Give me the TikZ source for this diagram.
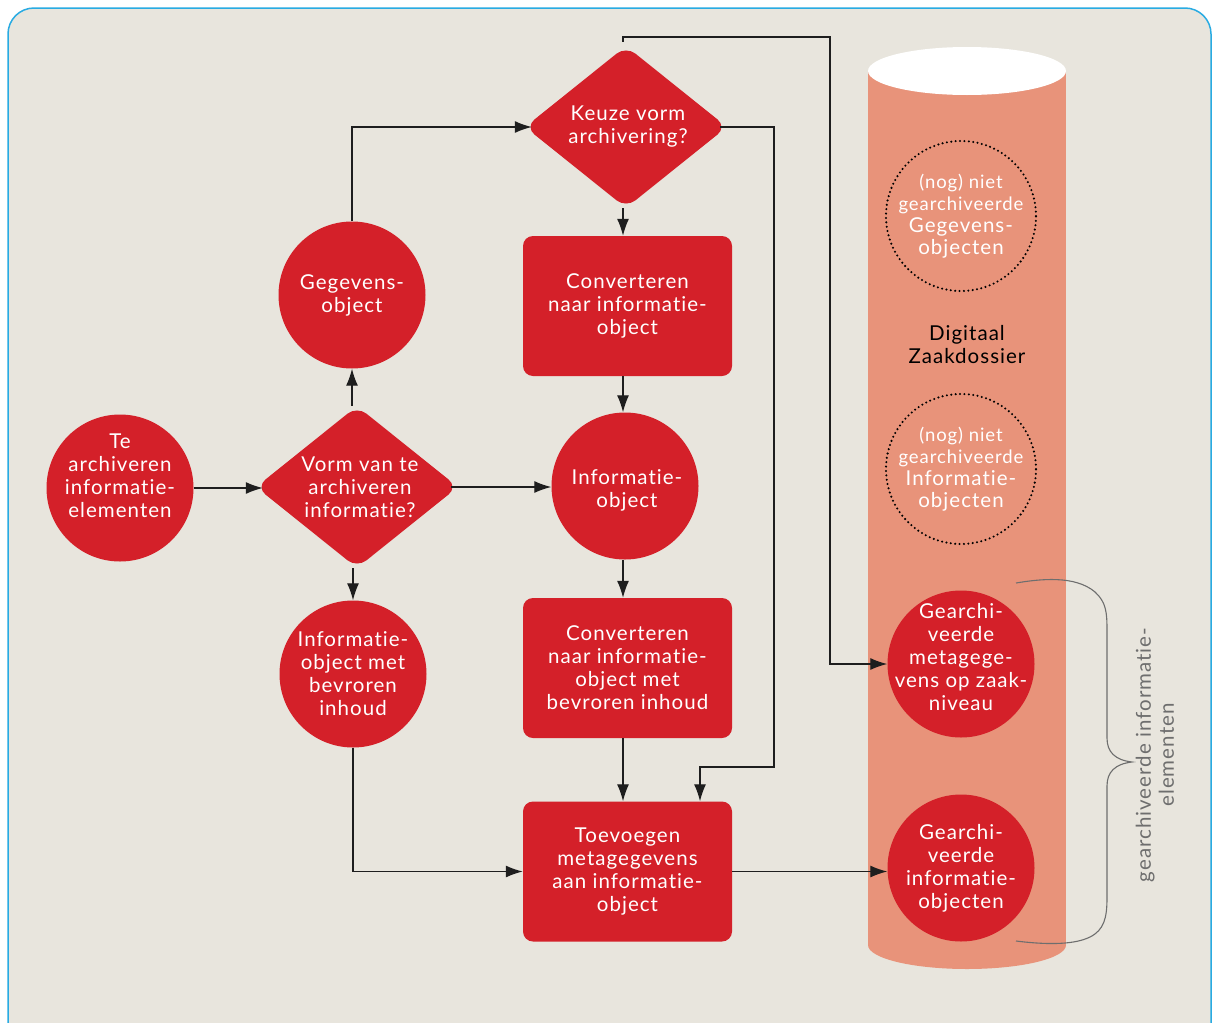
\documentclass[tikz,border=0pt]{standalone}
\usepackage{fontspec}
\setmainfont[LetterSpace=5,Ligatures={NoCommon}]{Lato}
\usetikzlibrary{shapes.geometric,arrows.meta}
\definecolor{bgc}{HTML}{E8E5DD}
\definecolor{framec}{HTML}{29ABE2}
\definecolor{redc}{HTML}{D42029}
\definecolor{salmon}{HTML}{E8937A}
\definecolor{linec}{HTML}{1E1E1E}
\definecolor{bracec}{HTML}{6E6E6E}
\tikzset{
  lbl/.style={align=center,text=white,font=\fontsize{20.5}{23}\selectfont},
  smalllbl/.style={align=center,text=white,font=\fontsize{18.5}{22}\selectfont},
  circ/.style={circle,fill=redc,minimum size=147pt,inner sep=0pt,lbl},
  dcirc/.style={circle,draw=black,line width=2.3pt,dash pattern=on 0pt off 4.4pt,line cap=round,minimum size=148pt,inner sep=0pt,smalllbl},
  box/.style={rectangle,rounded corners=10pt,fill=redc,minimum width=209pt,minimum height=140pt,inner sep=0pt,lbl},
  dia/.style={diamond,fill=redc,rounded corners=12pt,minimum width=202pt,minimum height=162pt,inner sep=0pt},
  arr/.style={draw=linec,line width=1.3pt,-{Latex[length=17pt,width=12pt]}},
  ln/.style={draw=linec,line width=1.3pt}
}
\begin{document}
\begin{tikzpicture}[x=1pt,y=-1pt]
\useasboundingbox (0,0) rectangle (1219,1023);
\clip (0,0) rectangle (1219,1023);
\fill[white] (0,0) rectangle (1219,1023);
\draw[framec,fill=bgc,line width=1.5pt,rounded corners=26pt] (8,8) rectangle (1211,1050);

% cylinder
\fill[salmon] (868,71) rectangle (1066,945);
\fill[salmon] (967,945) ellipse [x radius=99pt, y radius=24pt];
\fill[white] (967,71) ellipse [x radius=99pt, y radius=24pt];

% nodes
\node[circ] (c1) at (120,488) {};
\node[lbl] at (120,476) {Te\\archiveren\\informatie-\\elementen};
\node[dia] (d1) at (357,487) {};
\node[lbl] at (360,487) {Vorm van te\\archiveren\\informatie?};
\node[circ] (cg) at (352,295) {Gegevens-\\object};
\node[circ] (cb) at (353,674) {Informatie-\\object met\\bevroren\\inhoud};
\node[dia] (d2) at (626,127) {};
\node[lbl] at (628,127) {Keuze vorm\\archivering?};
\node[box] (r1) at (627.5,306) {Converteren\\naar informatie-\\object};
\node[circ] (ci) at (625,486) {};
\node[lbl] at (627,490) {Informatie-\\object};
\node[box] (r2) at (627.5,668) {Converteren\\naar informatie-\\object met\\bevroren inhoud};
\node[box] (r3) at (627.5,871.5) {Toevoegen\\metagegevens\\aan informatie-\\object};

\node[dcirc] (n1) at (961,216) {(nog) niet\\gearchiveerde\\{\fontsize{20.5}{22}\selectfont Gegevens-}\\{\fontsize{20.5}{22}\selectfont objecten}};
\node[align=center,text=black,font=\fontsize{20.5}{23}\selectfont] (dz) at (967,345) {Digitaal\\Zaakdossier};
\node[dcirc] (n2) at (961,469) {(nog) niet\\gearchiveerde\\{\fontsize{20.5}{22}\selectfont Informatie-}\\{\fontsize{20.5}{22}\selectfont objecten}};
\node[circ] (cm) at (961,664) {};
\node[lbl] at (961,657) {Gearchi-\\veerde\\metagege-\\vens op zaak-\\niveau};
\node[circ] (ca) at (961,868) {Gearchi-\\veerde\\informatie-\\objecten};

% connectors
\coordinate (k1) at (774,767);
\coordinate (k2) at (830,37);
\draw[arr,shorten >=-7pt] (c1.east) -- (c1.east -| d1.west);
\draw[arr] (d1.north -| cg.south) -- (cg.south);
\draw[arr] (d1.south -| cb.north) -- (cb.north);
\draw[arr,shorten <=-7pt] (d1.east) -- (d1.east -| ci.west);
\draw[arr,shorten >=-7pt] (cg.north) |- (d2.west);
\draw[arr] ([xshift=-3pt]d2.south) -- ([xshift=-3pt]d2.south |- r1.north);
\draw[arr] ([xshift=-4.5pt]r1.south) -- ([xshift=-4.5pt]r1.south |- ci.north);
\draw[arr] ([xshift=-2pt]ci.south) -- ([xshift=-2pt]ci.south |- r2.north);
\draw[arr] ([xshift=-4.5pt]r2.south) -- ([xshift=-4.5pt]r2.north |- r3.north);
\draw[arr,shorten <=-7pt] (d2.east) -| (k1) -| ([xshift=72.5pt]r3.north);
\draw[arr] ([xshift=-3pt,yshift=4pt]d2.north) |- (k2) |- (cm.west);
\draw[arr] (cb.south) |- (r3.west);
\draw[arr] (r3.east) -- (r3.east -| ca.west);

% brace
\draw[bracec,line width=1.1pt] (1016,583) .. controls (1040,579) and (1075,575) .. (1095,592)
  .. controls (1106,602) and (1107,612) .. (1107,630) -- (1107,738)
  .. controls (1107,752) and (1115,760) .. (1132,762)
  .. controls (1115,764) and (1107,772) .. (1107,786) -- (1107,898)
  .. controls (1107,918) and (1104,930) .. (1090,937)
  .. controls (1072,946) and (1040,944) .. (1016,941);
\node[rotate=90,align=center,text=bracec,font=\fontsize{20.5}{23}\selectfont] (bt) at (1155,755) {gearchiveerde informatie-\\elementen};
\end{tikzpicture}
\end{document}
